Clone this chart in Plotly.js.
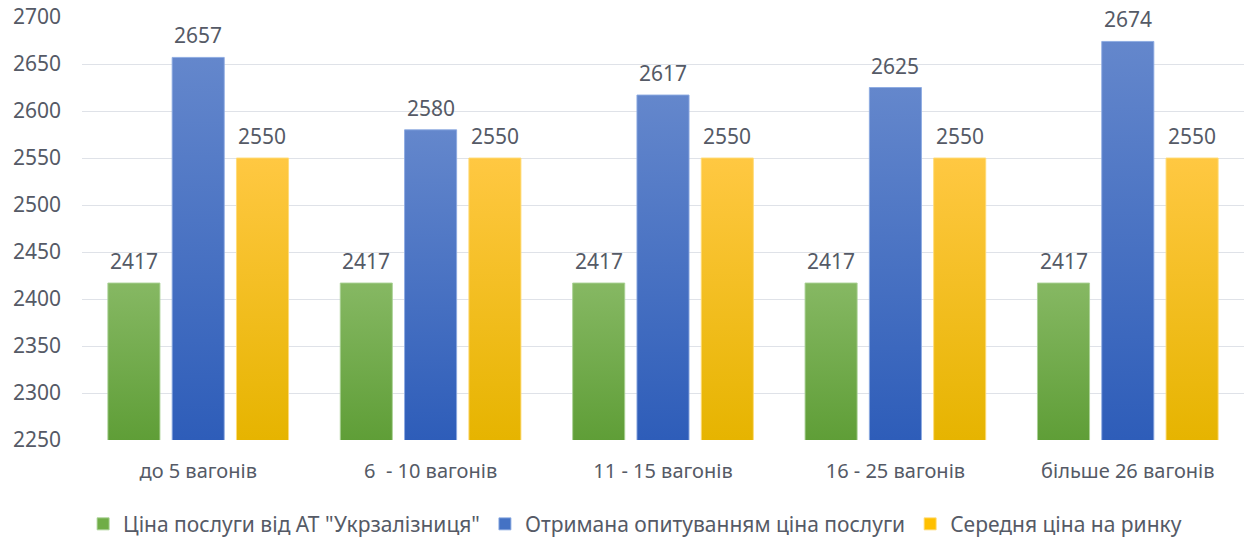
<!DOCTYPE html>
<html>
<head>
<meta charset="utf-8">
<script src="https://cdn.plot.ly/plotly-3.0.1.min.js"></script>
<style>
html,body{margin:0;padding:0;background:#fff;}
#chart{width:1244px;height:537px;}
</style>
</head>
<body>
<div id="chart"></div>
<script>
const categories = ["до 5 вагонів", "6  - 10 вагонів", "11 - 15 вагонів", "16 - 25 вагонів", "більше 26 вагонів"];
const seriesNames = ["Ціна послуги від АТ \"Укрзалізниця\"", "Отримана опитуванням ціна послуги", "Середня ціна на ринку"];
const ukrzaliznytsia = [2417, 2417, 2417, 2417, 2417];
const survey = [2657, 2580, 2617, 2625, 2674];
const market = [2550, 2550, 2550, 2550, 2550];
const yTicks = [2250, 2300, 2350, 2400, 2450, 2500, 2550, 2600, 2650, 2700];

const colors = ["#70ad47", "#4472c4", "#ffc000"];
const gradTop = ["#86b863", "#6487cc", "#ffc842"];
const gradBottom = ["#5f9e37", "#2e5db9", "#e6b400"];
const outline = ["rgba(170,210,150,0.9)", "rgba(140,170,225,0.9)", "rgba(255,220,120,0.9)"];

const FONT = "'Noto Sans', 'Open Sans', sans-serif";
const textColor = "#555a66";

const W = 1244, H = 537;
const M = {l: 82, r: 0, t: 17, b: 97};
const BARGAP = 0.17, GROUPGAP = 0.19;

const values = [ukrzaliznytsia, survey, market];
const traces = values.map((v, i) => ({
  type: "bar",
  name: seriesNames[i],
  x: categories,
  y: v,
  marker: {color: colors[i], line: {width: 1, color: outline[i]}},
  hoverinfo: "x+y+name"
}));

// data labels as annotations, shifted to each bar's slot in the group
const plotW = W - M.l - M.r;
const pitch = plotW / categories.length * (1 - BARGAP) / values.length;
const annotations = [];
values.forEach((v, i) => {
  v.forEach((val, j) => {
    annotations.push({
      x: categories[j], y: val, text: String(val),
      xref: "x", yref: "y",
      xshift: (i - (values.length - 1) / 2) * pitch,
      yshift: 6, yanchor: "bottom", showarrow: false,
      font: {family: FONT, size: 21, color: textColor}
    });
  });
});

const layout = {
  width: W, height: H,
  margin: M,
  paper_bgcolor: "#fff", plot_bgcolor: "#fff",
  barmode: "group",
  bargap: BARGAP,
  bargroupgap: GROUPGAP,
  font: {family: FONT, color: textColor},
  xaxis: {
    type: "category", automargin: false,
    tickfont: {family: FONT, size: 20, color: textColor},
    showgrid: false, showline: false, ticks: "",
    ticklabelstandoff: 17
  },
  yaxis: {
    range: [2250, 2700], automargin: false,
    tickvals: yTicks,
    ticktext: yTicks.map(String),
    tickfont: {family: FONT, size: 21, color: textColor},
    showgrid: true, gridcolor: "#dfe2e8", gridwidth: 1,
    zeroline: false, showline: false, ticks: "",
    ticklabelstandoff: 20
  },
  annotations: annotations,
  showlegend: true,
  legend: {
    orientation: "h", x: 0.476, xanchor: "center",
    yref: "container", y: 0.062, yanchor: "top",
    font: {family: FONT, size: 21, color: textColor},
    itemwidth: 30, traceorder: "normal"
  }
};

Plotly.newPlot("chart", traces, layout, {displayModeBar: false, staticPlot: true}).then(gd => {
  const svg = gd.querySelector("svg.main-svg");
  const defs = svg.querySelector("defs");
  const ns = "http://www.w3.org/2000/svg";
  const plotH = gd._fullLayout._size.h;
  let n = 0;
  gd.querySelectorAll(".barlayer .trace").forEach((t, i) => {
    t.querySelectorAll("path").forEach(p => {
      const bb = p.getBBox();
      const top = bb.y;
      const bottom = Math.min(bb.y + bb.height, plotH);
      const id = "bargrad" + (n++);
      const lg = document.createElementNS(ns, "linearGradient");
      lg.setAttribute("id", id);
      lg.setAttribute("gradientUnits", "userSpaceOnUse");
      lg.setAttribute("x1", "0"); lg.setAttribute("y1", String(top));
      lg.setAttribute("x2", "0"); lg.setAttribute("y2", String(bottom));
      [[0, gradTop[i]], [1, gradBottom[i]]].forEach(([o, c]) => {
        const s = document.createElementNS(ns, "stop");
        s.setAttribute("offset", String(o)); s.setAttribute("stop-color", c);
        lg.appendChild(s);
      });
      defs.appendChild(lg);
      p.style.fill = "url(#" + id + ")";
    });
  });
});
</script>
</body>
</html>
